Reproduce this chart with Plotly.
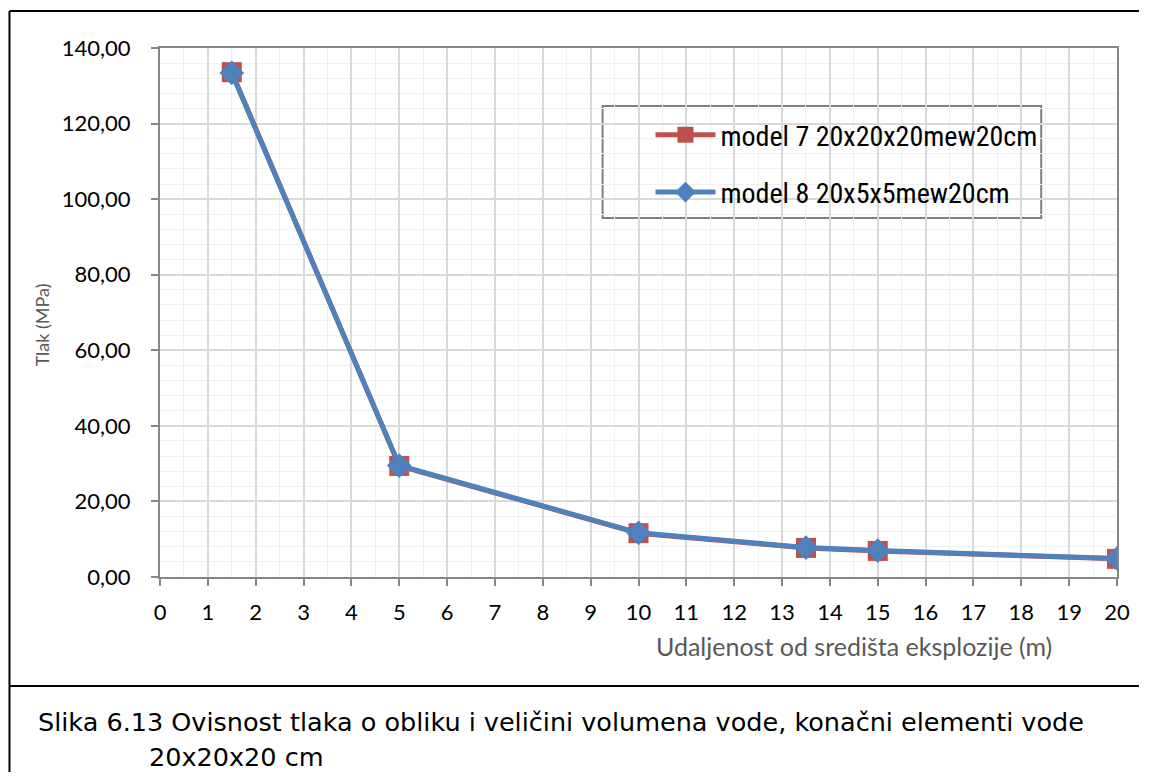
import plotly.graph_objects as go

# distance from explosion centre (m) and pressure (MPa)
distance = [1.5, 5, 10, 13.5, 15, 20]
model7 = [133.6, 29.4, 11.6, 7.7, 6.9, 4.8]
model8 = [133.4, 29.5, 11.7, 7.8, 7.0, 4.9]

names = ["model 7 20x20x20mew20cm", "model 8 20x5x5mew20cm"]
caption_lines = [
    "Slika 6.13 Ovisnost tlaka o obliku i veličini volumena vode, konačni elementi vode",
    "20x20x20 cm",
]

RED = "#C0504D"
BLUE = "#4F81BD"
GRID = "#D9D9D9"
AXIS = "#868686"

# page has an 8px body margin on every side; keep the figure inside the window
OFF = 8
W, H = 1150 - 2 * OFF, 780 - 2 * OFF
L, R, T, B = 160, 1120, 48, 577


def px(x):
    return (x - L) / (R - L)


def py(y):
    return (B - y) / (B - T)


fig = go.Figure()
fig.add_trace(go.Scatter(
    x=distance, y=model7, name=names[0], mode="lines+markers",
    line=dict(color=RED, width=5),
    marker=dict(symbol="square", size=20, color=RED),
    legendgroup="a",
))
fig.add_trace(go.Scatter(
    x=distance, y=model8, name=names[1], mode="lines+markers",
    line=dict(color=BLUE, width=5),
    marker=dict(symbol="diamond", size=19, color=BLUE),
    legendgroup="b",
))

fig.update_layout(
    width=W, height=H,
    margin=dict(l=L - OFF, r=W + OFF - R, t=T - OFF, b=H + OFF - B),
    paper_bgcolor="white", plot_bgcolor="white",
    separators=", ",
    font=dict(family="Lato, Carlito, Liberation Sans", size=22, color="black"),
    showlegend=True,
    legend=dict(
        x=px(652), y=py(110), xanchor="left", yanchor="top",
        borderwidth=0, bgcolor="rgba(0,0,0,0)",
        font=dict(family="Roboto Condensed, Liberation Sans Narrow, Liberation Sans", size=28),
        traceorder="grouped", tracegroupgap=18,
        itemwidth=60,
    ),
)

fig.update_xaxes(
    range=[0, 20], tickmode="linear", tick0=0, dtick=1,
    showgrid=True, gridcolor=GRID, gridwidth=1.5,
    minor=dict(dtick=0.5, showgrid=True, gridcolor="#F0F0F0", gridwidth=1),
    showline=True, linecolor=AXIS, linewidth=2, mirror=True,
    ticks="outside", ticklen=7, tickcolor=AXIS, tickwidth=1.5,
    ticklabelstandoff=8,
    zeroline=False,
)
fig.update_yaxes(
    range=[0, 140], tickmode="linear", tick0=0, dtick=20, tickformat=".2f",
    showgrid=True, gridcolor=GRID, gridwidth=1.5,
    minor=dict(dtick=4, showgrid=True, gridcolor="#F0F0F0", gridwidth=1),
    showline=True, linecolor=AXIS, linewidth=2, mirror=True,
    ticks="outside", ticklen=7, tickcolor=AXIS, tickwidth=1.5,
    ticklabelstandoff=16,
    zeroline=False,
)

# legend frame
fig.add_shape(type="rect", xref="paper", yref="paper", layer="between",
              x0=px(604), x1=px(1044), y0=py(218), y1=py(106),
              line=dict(color="#7F7F7F", width=2), fillcolor="white")

# axis titles
fig.add_annotation(
    text="Udaljenost od središta eksplozije (m)", xref="paper", yref="paper",
    x=px(856), y=py(646), xanchor="center", yanchor="middle", showarrow=False,
    font=dict(size=25, color="#595959", family="Lato, Carlito, Liberation Sans"),
)
fig.add_annotation(
    text="Tlak (MPa)", xref="paper", yref="paper",
    x=px(42), y=py(325), xanchor="center", yanchor="middle",
    showarrow=False, textangle=-90,
    font=dict(size=18, color="#595959", family="Lato, Carlito, Liberation Sans"),
)

# caption
fig.add_annotation(
    text=caption_lines[0], xref="paper", yref="paper",
    x=px(36), y=py(722), xanchor="left", yanchor="middle", showarrow=False,
    font=dict(size=25.5, color="black", family="DejaVu Sans, Noto Sans"),
)
fig.add_annotation(
    text=caption_lines[1], xref="paper", yref="paper",
    x=px(147), y=py(757), xanchor="left", yanchor="middle", showarrow=False,
    font=dict(size=25.5, color="black", family="DejaVu Sans, Noto Sans"),
)

# outer frame (top, left) and caption divider, up to the figure's right edge
frame = dict(color="black", width=2)
right = W + OFF
fig.add_shape(type="line", xref="paper", yref="paper",
              x0=px(9), x1=px(right), y0=py(11), y1=py(11), line=frame)
fig.add_shape(type="line", xref="paper", yref="paper",
              x0=px(9), x1=px(9), y0=py(11), y1=py(H + OFF), line=frame)
fig.add_shape(type="line", xref="paper", yref="paper",
              x0=px(9), x1=px(right), y0=py(686), y1=py(686), line=frame)

fig.write_html("out.html")
